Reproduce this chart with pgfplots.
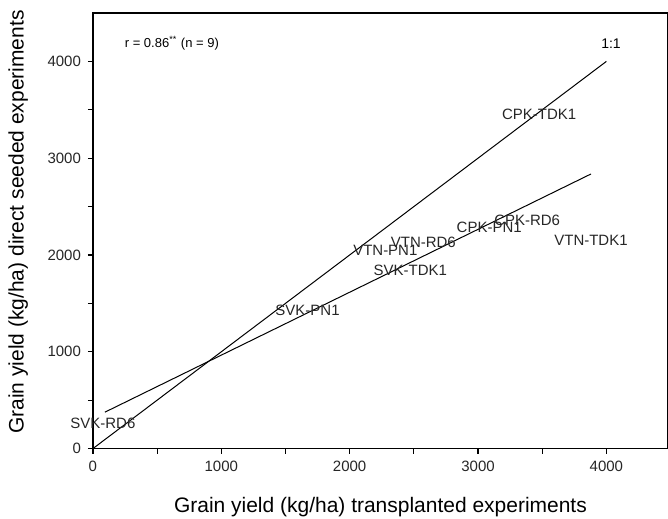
\documentclass[border=0pt]{standalone}
\usepackage{fontspec}
\setmainfont{Liberation Sans}
\usepackage{pgfplots}
\pgfplotsset{compat=1.18}

\begin{document}
\begin{tikzpicture}
\begin{axis}[scale only axis,width=287.8pt,height=218pt,
  xmin=0,xmax=4480,ymin=0,ymax=4500,
  xtick={0,1000,2000,3000,4000},ytick={0,1000,2000,3000,4000},
  minor tick num=1,tick align=outside,xtick pos=bottom,ytick pos=left,
  major tick length=2.5pt,minor tick length=2.5pt,
  axis line style={line width=0.9pt},
  every tick/.style={line width=0.6pt,black},
  /pgf/number format/assume math mode=true,
  /pgf/number format/set thousands separator={},
  tick label style={font=\fontsize{7.5}{8}\selectfont,text=black!85},
  xlabel={Grain yield (kg/ha) transplanted experiments},
  ylabel={Grain yield (kg/ha) direct seeded experiments},
  label style={font=\fontsize{10.5}{12}\selectfont},
  xlabel style={at={(axis description cs:0.5,-0.135)},anchor=center},
  ylabel style={at={(axis description cs:-0.13,0.52)},anchor=center},
  clip=false]
% 1:1 line
\addplot[black,line width=0.5pt] coordinates {(0,0)(4000,4000)};
% regression line
\addplot[black,line width=0.5pt] coordinates {(93,376)(3880,2837)};
% data labels
\addplot[only marks,mark=none,nodes near coords,point meta=explicit symbolic,
  every node near coord/.style={anchor=center,font=\fontsize{7.5}{8}\selectfont,text=black!85}]
  table[meta=lab,row sep=\\]{
  x y lab\\
  3476 3455 CPK-TDK1\\
  3383 2353 CPK-RD6\\
  3087 2281 CPK-PN1\\
  3880 2147 VTN-TDK1\\
  2574 2127 VTN-RD6\\
  2278 2044 VTN-PN1\\
  2473 1838 SVK-TDK1\\
  1672 1426 SVK-PN1\\
  78 263 SVK-RD6\\
  };
\node[font=\fontsize{7}{8}\selectfont] at (axis cs:4036,4186) {1:1};
\node[anchor=west,font=\fontsize{6.5}{8}\selectfont] at (axis cs:194,4186)
  {r = 0.86\textsuperscript{**} (n = 9)};
\end{axis}
\pgfresetboundingbox
\useasboundingbox (-46.5pt,-34.75pt) rectangle (287.8pt,224.5pt);
\end{tikzpicture}
\end{document}
